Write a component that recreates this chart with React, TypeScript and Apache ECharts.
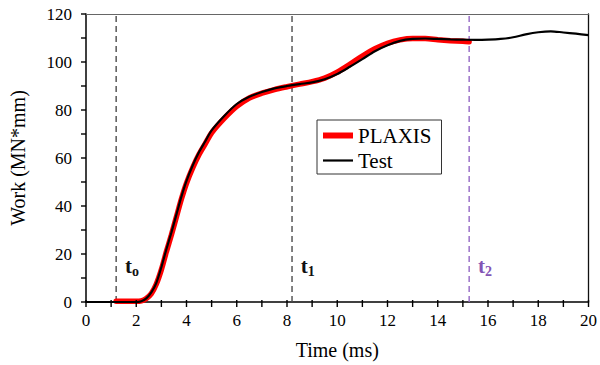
import React, { useEffect, useRef } from "react";
import * as echarts from "echarts";

const testT = [0, 1, 2, 2.2, 2.4, 2.6, 2.8, 3.0, 3.2, 3.4, 3.6, 3.8, 4.0, 4.25, 4.5, 4.75, 5.0, 5.5, 6.0, 6.5, 7.0, 7.5, 8.0, 8.5, 9.0, 9.5, 10, 10.5, 11, 11.5, 12, 12.5, 13, 13.5, 14, 14.5, 15, 15.5, 16, 16.5, 17, 17.5, 18, 18.5, 19, 19.5, 20];
const testW = [0, 0, 0, 0.3, 1.5, 4, 8, 14.5, 22, 29, 36.5, 44, 50.5, 57, 62.5, 67, 71.5, 77.5, 82.5, 85.5, 87.5, 89, 90, 90.8, 91.5, 92.8, 95, 98, 101.2, 104.5, 107, 108.8, 109.6, 109.8, 109.6, 109.4, 109.3, 109.2, 109.3, 109.6, 110.3, 111.5, 112.4, 112.8, 112.3, 111.8, 111.2];

const plaxisT = [1.2, 2, 2.2, 2.4, 2.6, 2.8, 3.0, 3.2, 3.4, 3.6, 3.8, 4.0, 4.25, 4.5, 4.75, 5, 5.5, 6, 6.5, 7, 7.5, 8, 8.5, 9, 9.5, 10, 10.5, 11, 11.5, 12, 12.5, 13, 13.5, 14, 14.5, 15, 15.25];
const plaxisW = [0.3, 0.3, 0.5, 1.5, 3.5, 7.5, 13.5, 21, 28, 35.5, 43, 49.5, 56, 61.5, 66, 70.5, 76.5, 81.5, 85, 87, 88.5, 89.7, 90.8, 91.8, 93.3, 95.8, 99, 102.5, 105.5, 107.8, 109.2, 109.8, 109.8, 109.3, 108.9, 108.6, 108.4];

const xTickValues = [0, 1, 2, 3, 4, 5, 6, 7, 8, 9, 10, 11, 12, 13, 14, 15, 16, 17, 18, 19, 20];
const yTickValues = [0, 10, 20, 30, 40, 50, 60, 70, 80, 90, 100, 110, 120];

const markerTimes = [1.2, 8.2, 15.25];
const markerSubs = ["o", "1", "2"];
const markerColors = ["#111111", "#111111", "#8455b5"];
const lineColors = ["#4a4a4a", "#4a4a4a", "#9468c4"];

const FONT = "Liberation Serif";

export default function App() {
  const ref = useRef<HTMLDivElement>(null);
  useEffect(() => {
    if (!ref.current) return;
    const chart = echarts.init(ref.current, undefined, { renderer: "svg" });
    const zip = (a: number[], b: number[]) => a.map((v, i) => [v, b[i]]);
    const dashed = markerTimes.map((t, i) => ({
      type: "line",
      data: [[t, 0], [t, 120]],
      symbol: "none",
      silent: true,
      lineStyle: { color: lineColors[i], width: 1.4, type: [6, 4] },
      z: 1,
    }));
    const labels = markerTimes.map((t, i) => ({
      type: "scatter",
      data: [[t + 0.33, 15]],
      symbolSize: 1,
      silent: true,
      itemStyle: { color: "transparent", opacity: 1 },
      label: {
        show: true,
        position: "right",
        distance: 0,
        color: markerColors[i],
        textBorderWidth: 0,
        formatter: "{b|t}{s|" + markerSubs[i] + "}",
        rich: {
          b: { fontFamily: FONT, fontWeight: "bold", fontSize: 21, color: markerColors[i], textBorderWidth: 0 },
          s: { fontFamily: FONT, fontWeight: "bold", fontSize: 14, color: markerColors[i], textBorderWidth: 0, padding: [11, 0, 0, 0] },
        },
      },
      emphasis: { disabled: true },
      z: 5,
    }));
    const tickSeries = (vals: number[], horizontal: boolean) => ({
      type: "custom",
      silent: true,
      clip: false,
      z: 6,
      data: vals.map((v) => (horizontal ? [v, 0] : [0, v])),
      renderItem: (_p: any, api: any) => {
        const pt = api.coord([api.value(0), api.value(1)]);
        const shape = horizontal
          ? { x1: pt[0], y1: pt[1] - 2, x2: pt[0], y2: pt[1] + 5 }
          : { x1: pt[0] - 5, y1: pt[1], x2: pt[0], y2: pt[1] };
        return { type: "line", shape, style: { stroke: "#000000", lineWidth: 1.4 } };
      },
    });
    const label = { fontFamily: FONT, fontSize: 17, color: "#000" };
    const frame = (color: string, width: number) => ({
      show: true,
      axisLine: { show: true, onZero: false, lineStyle: { color, width } },
      axisTick: { show: false },
      axisLabel: { show: false },
      splitLine: { show: false },
    });
    chart.setOption({
      animation: false,
      grid: { left: 85, right: 8, top: 14, bottom: 60 },
      legend: {
        data: [
          { name: "PLAXIS", icon: "path://M0,0H30V6H0Z", itemStyle: { color: "#ff0000", opacity: 1 } },
          { name: "Test", icon: "path://M0,0H30V2.2H0Z", itemStyle: { color: "#000000", opacity: 1 } },
        ],
        orient: "vertical",
        left: 317,
        top: 120,
        itemWidth: 30,
        itemHeight: 12,
        itemGap: 4,
        symbolKeepAspect: true,
        padding: [5, 10, 3, 6],
        borderColor: "#333",
        borderWidth: 1,
        borderRadius: 0,
        textStyle: { fontFamily: FONT, fontSize: 21, color: "#000" },
      },
      xAxis: [
        {
          type: "value",
          min: 0,
          max: 20,
          interval: 2,
          name: "Time (ms)",
          nameLocation: "middle",
          nameGap: 38,
          nameTextStyle: { fontFamily: FONT, fontSize: 20, color: "#000" },
          axisLine: { show: true, onZero: false, lineStyle: { color: "#000", width: 1.5 } },
          axisTick: { show: false },
          axisLabel: { ...label, margin: 10 },
          splitLine: { show: false },
        },
        { type: "value", min: 0, max: 20, position: "top", ...frame("#666666", 1) },
      ],
      yAxis: [
        {
          type: "value",
          min: 0,
          max: 120,
          interval: 20,
          name: "Work (MN*mm)",
          nameLocation: "middle",
          nameGap: 58,
          nameTextStyle: { fontFamily: FONT, fontSize: 20, color: "#000" },
          axisLine: { show: true, onZero: false, lineStyle: { color: "#000", width: 1.5 } },
          axisTick: { show: false },
          axisLabel: { ...label, margin: 14 },
          splitLine: { show: false },
        },
        { type: "value", min: 0, max: 120, position: "right", ...frame("#111111", 1.3) },
      ],
      series: [
        ...dashed,
        {
          name: "PLAXIS",
          type: "line",
          data: zip(plaxisT, plaxisW),
          smooth: 0.3,
          symbol: "none",
          itemStyle: { color: "#ff0000" },
          lineStyle: { color: "#ff0000", width: 5.5, cap: "round" },
          z: 3,
        },
        {
          name: "Test",
          type: "line",
          data: zip(testT, testW),
          smooth: 0.3,
          symbol: "none",
          itemStyle: { color: "#000" },
          lineStyle: { color: "#000", width: 2.2 },
          z: 4,
        },
        ...labels,
        tickSeries(xTickValues, true),
        tickSeries(yTickValues, false),
      ],
    });
    return () => chart.dispose();
  }, []);
  return <div ref={ref} style={{ width: 600, height: 365, position: "absolute", left: 0, top: 0 }} />;
}
